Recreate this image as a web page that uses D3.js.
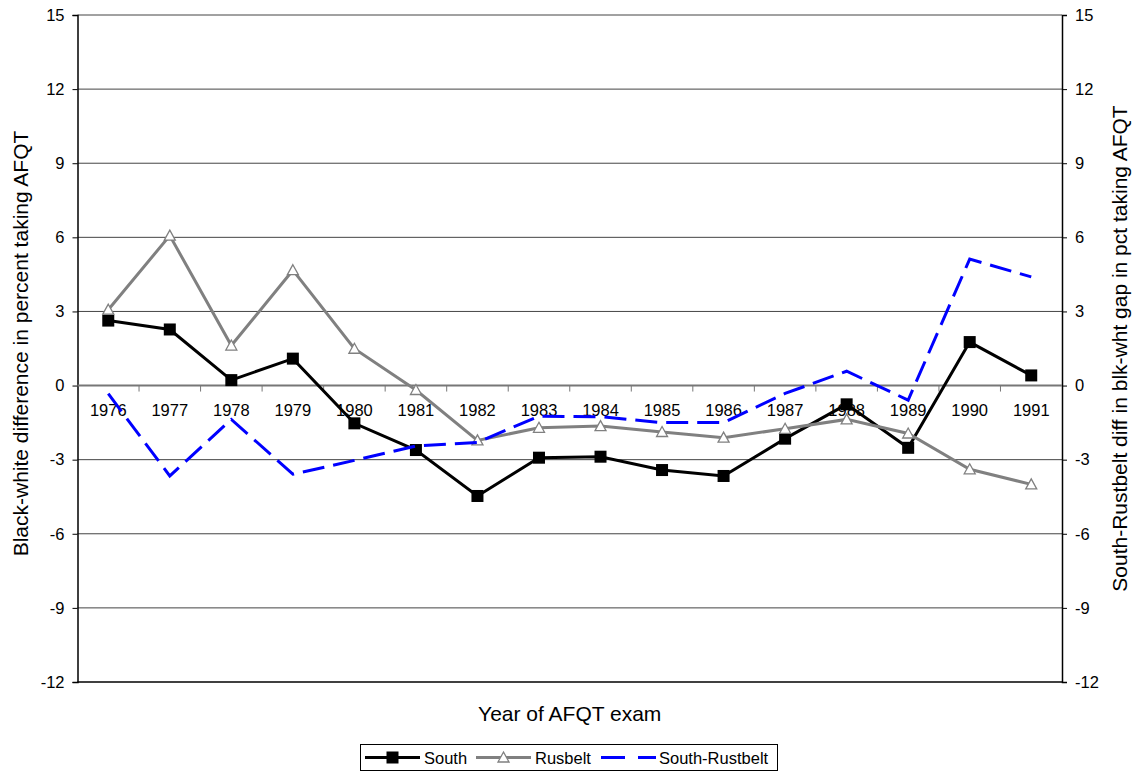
<!DOCTYPE html>
<html>
<head>
<meta charset="utf-8">
<script src="https://cdn.jsdelivr.net/npm/d3@7"></script>
<style>
  body { margin: 0; background: #fff; }
  text { font-family: "Liberation Sans", Arial, sans-serif; }
</style>
</head>
<body>
<div id="chart"></div>
<script>
const width = 1134
const height = 772
const margin = ({top: 15, right: 72, bottom: 90, left: 77.5})

// data
const years = ["1976","1977","1978","1979","1980","1981","1982","1983","1984","1985","1986","1987","1988","1989","1990","1991"]
const south = [2.63, 2.27, 0.22, 1.09, -1.53, -2.61, -4.47, -2.92, -2.88, -3.42, -3.66, -2.15, -0.76, -2.52, 1.76, 0.41]
const rusbelt = [3.07, 6.07, 1.62, 4.67, 1.49, -0.18, -2.22, -1.71, -1.64, -1.88, -2.11, -1.75, -1.37, -1.94, -3.39, -4.0]
const southRust = [-0.33, -3.66, -1.37, -3.59, -3.03, -2.45, -2.3, -1.24, -1.26, -1.5, -1.5, -0.32, 0.58, -0.59, 5.12, 4.4]
const yTicks = [-12, -9, -6, -3, 0, 3, 6, 9, 12, 15]

const svg = d3.select('#chart').append('svg')
  .attr('width', width)
  .attr('height', height)

const x0 = margin.left, x1 = 1062, yTop = margin.top, yBot = 682
const tickFont = 16.5, titleFont = 21

let x = d3.scaleBand()
  .domain(years)
  .range([x0, x1])
  .padding(0)

let y = d3.scaleLinear()
  .domain([-12, 15])
  .range([yBot, yTop])

// right axis has the same range
let y2 = d3.scaleLinear()
  .domain([-12, 15])
  .range([yBot, yTop])

const cx = d => x(d) + x.bandwidth() / 2

// gridlines
svg.append('g')
  .selectAll('line')
  .data(yTicks.filter(t => t != 0))
  .join('line')
  .attr('x1', x0).attr('x2', x1)
  .attr('y1', d => y(d)).attr('y2', d => y(d))
  .attr('stroke', d => d == -12 ? '#000' : '#444')
  .attr('stroke-width', d => d == -12 ? 1.5 : 1)

// left axis
svg.append('g')
  .attr('transform', `translate(${x0},0)`)
  .call(d3.axisLeft(y).tickValues(yTicks).tickFormat(d => String(d)).tickSize(5).tickPadding(8))
  .call(g => g.select('.domain').attr('stroke', '#000').attr('stroke-width', 1.5))
  .call(g => g.selectAll('.tick line').attr('stroke', '#000'))
  .call(g => g.selectAll('text').attr('font-size', tickFont).attr('fill', '#000')
    .attr('font-family', '"Liberation Sans", Arial, sans-serif'))

// right axis
svg.append('g')
  .attr('transform', `translate(${x1},0)`)
  .call(d3.axisRight(y2).tickValues(yTicks).tickFormat(d => String(d)).tickSize(5).tickPadding(8))
  .call(g => g.select('.domain').attr('stroke', '#000').attr('stroke-width', 1.5))
  .call(g => g.selectAll('.tick line').attr('stroke', '#000'))
  .call(g => g.selectAll('text').attr('font-size', tickFont).attr('fill', '#000')
    .attr('font-family', '"Liberation Sans", Arial, sans-serif'))

// category axis sitting on zero
const xa = svg.append('g')
xa.append('line')
  .attr('x1', x0).attr('x2', x1)
  .attr('y1', y(0)).attr('y2', y(0))
  .attr('stroke', '#777').attr('stroke-width', 2)

xa.selectAll('.cat-tick')
  .data(years.slice(1))
  .join('line')
  .attr('class', 'cat-tick')
  .attr('x1', d => x(d)).attr('x2', d => x(d))
  .attr('y1', y(0)).attr('y2', y(0) + 6)
  .attr('stroke', '#777').attr('stroke-width', 1)

xa.selectAll('text')
  .data(years)
  .join('text')
  .attr('x', d => cx(d))
  .attr('y', y(0) + 30.5)
  .attr('text-anchor', 'middle')
  .attr('font-size', tickFont)
  .text(d => d)

// axis titles
svg.append('text')
  .attr('transform', `translate(28,${(yTop + yBot) / 2 - 5}) rotate(-90)`)
  .attr('text-anchor', 'middle')
  .attr('font-size', titleFont)
  .text('Black-white difference in percent taking AFQT')

svg.append('text')
  .attr('transform', `translate(1127,${(yTop + yBot) / 2}) rotate(-90)`)
  .attr('text-anchor', 'middle')
  .attr('font-size', titleFont)
  .text('South-Rustbelt diff in blk-wht gap in pct taking AFQT')

svg.append('text')
  .attr('x', (x0 + x1) / 2)
  .attr('y', 721)
  .attr('text-anchor', 'middle')
  .attr('font-size', titleFont)
  .text('Year of AFQT exam')

// series
let line = d3.line()
  .x(d => cx(d.year))
  .y(d => d.scale(d.value))

const series = [
  {name: 'South', values: south, scale: y, color: '#000', dash: null, marker: 'square'},
  {name: 'Rusbelt', values: rusbelt, scale: y, color: '#808080', dash: null, marker: 'triangle'},
  {name: 'South-Rustbelt', values: southRust, scale: y2, color: '#0000ff', dash: '22,9', marker: null}
]

series.forEach(function(s){
  let pts = years.map((yr, i) => ({year: yr, value: s.values[i], scale: s.scale}))

  let g = svg.append('g').attr('class', 'lines')

  g.append('path')
    .datum(pts)
    .attr('fill', 'none')
    .attr('stroke', s.color)
    .attr('stroke-width', 3)
    .attr('stroke-dasharray', s.dash)
    .attr('stroke-linejoin', 'miter')
    .attr('d', line)

  if (s.marker == 'square'){
    g.selectAll('rect')
      .data(pts)
      .join('rect')
      .attr('x', d => cx(d.year) - 6)
      .attr('y', d => s.scale(d.value) - 6)
      .attr('width', 12).attr('height', 12)
      .attr('fill', '#000')
  }
  if (s.marker == 'triangle'){
    g.selectAll('path.tri')
      .data(pts)
      .join('path')
      .attr('class', 'tri')
      .attr('transform', d => `translate(${cx(d.year)},${s.scale(d.value)})`)
      .attr('d', 'M0,-5.5L5.5,4.5L-5.5,4.5Z')
      .attr('fill', '#fff')
      .attr('stroke', '#808080')
      .attr('stroke-width', 1.3)
  }
})

// legend
const lg = svg.append('g')
lg.append('rect')
  .attr('x', 360.5).attr('y', 744.5)
  .attr('width', 417).attr('height', 26)
  .attr('fill', '#fff').attr('stroke', '#000').attr('stroke-width', 1)

const ly = 757.5
const legendItems = [
  {s: series[0], lx: 365, tx: 424},
  {s: series[1], lx: 476, tx: 535},
  {s: series[2], lx: 601, tx: 659}
]
legendItems.forEach(function(it){
  lg.append('line')
    .attr('x1', it.lx).attr('x2', it.lx + 55)
    .attr('y1', ly).attr('y2', ly)
    .attr('stroke', it.s.color)
    .attr('stroke-width', 3)
    .attr('stroke-dasharray', it.s.dash ? '24,13' : null)
  const mx = it.lx + 27.5
  if (it.s.marker == 'square'){
    lg.append('rect')
      .attr('x', mx - 6).attr('y', ly - 6)
      .attr('width', 12).attr('height', 12)
      .attr('fill', '#000')
  }
  if (it.s.marker == 'triangle'){
    lg.append('path')
      .attr('transform', `translate(${mx},${ly})`)
      .attr('d', 'M0,-5.5L5.5,4.5L-5.5,4.5Z')
      .attr('fill', '#fff')
      .attr('stroke', '#808080')
      .attr('stroke-width', 1.3)
  }
  lg.append('text')
    .attr('x', it.tx)
    .attr('y', ly + 6)
    .attr('font-size', tickFont)
    .text(it.s.name)
})
</script>
</body>
</html>
